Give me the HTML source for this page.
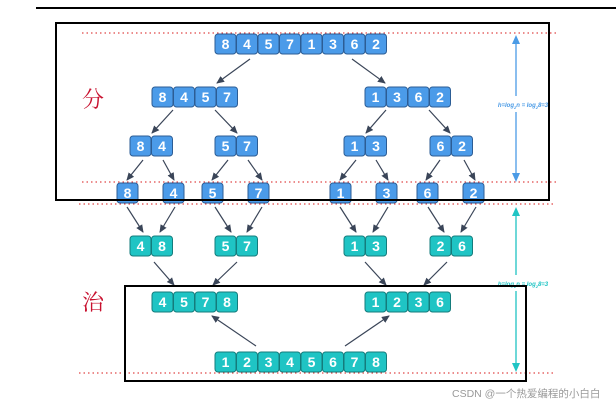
<!DOCTYPE html>
<html><head><meta charset="utf-8"><style>
html,body{margin:0;padding:0;background:#fff;}
svg{display:block}
.b rect{fill:#4b9be9;stroke:#2c5d95;stroke-width:1}
.t rect{fill:#1fc4c4;stroke:#147c7c;stroke-width:1}
text.n{font-family:"Liberation Sans",sans-serif;font-weight:bold;font-size:14px;fill:#fff;text-anchor:middle}
.ar line{stroke:#3a4558;stroke-width:1.2;marker-end:url(#ah)}
.dot{stroke:#e04848;stroke-width:1.2;stroke-dasharray:1.5 3}
</style></head><body>
<svg width="616" height="408" viewBox="0 0 616 408" xmlns="http://www.w3.org/2000/svg">
<defs>
<marker id="ah" markerWidth="8" markerHeight="8" refX="7" refY="4" orient="auto" markerUnits="userSpaceOnUse"><path d="M0,0.5 L8,4 L0,7.5 z" fill="#3a4558"/></marker>
<marker id="bh" markerWidth="8" markerHeight="10" refX="4" refY="9" orient="auto-start-reverse" markerUnits="userSpaceOnUse"><path d="M0,0 L4,10 L8,0 z" transform="rotate(0)" fill="#4a9be6"/></marker>
</defs>
<line x1="36" y1="8" x2="616" y2="8" stroke="#000" stroke-width="2"/>
<line class="dot" x1="82" y1="33" x2="558" y2="33"/>
<line class="dot" x1="82" y1="182" x2="558" y2="182"/>
<line class="dot" x1="79" y1="204" x2="554" y2="204"/>
<line class="dot" x1="79" y1="373" x2="554" y2="373"/>

<!-- blue vertical arrow -->
<line x1="516" y1="38" x2="516" y2="96" stroke="#4a9be6" stroke-width="1.3"/>
<line x1="516" y1="112" x2="516" y2="178" stroke="#4a9be6" stroke-width="1.3"/>
<path d="M512,44 L516,35 L520,44z M512,173 L516,182 L520,173z" fill="#4a9be6"/>
<text x="523" y="107" font-family="Liberation Sans,sans-serif" font-size="6" font-style="italic" font-weight="bold" fill="#4a9be6" text-anchor="middle">h=log<tspan font-size="4" dy="2">2</tspan><tspan dy="-2">n = log</tspan><tspan font-size="4" dy="2">2</tspan><tspan dy="-2">8=3</tspan></text>
<!-- teal vertical arrow -->
<line x1="516" y1="210" x2="516" y2="275" stroke="#1fc4c4" stroke-width="1.3"/>
<line x1="516" y1="291" x2="516" y2="368" stroke="#1fc4c4" stroke-width="1.3"/>
<path d="M512,216 L516,207 L520,216z M512,363 L516,372 L520,363z" fill="#1fc4c4"/>
<text x="523" y="286" font-family="Liberation Sans,sans-serif" font-size="6" font-style="italic" font-weight="bold" fill="#1fc4c4" text-anchor="middle">h=log<tspan font-size="4" dy="2">2</tspan><tspan dy="-2">n = log</tspan><tspan font-size="4" dy="2">2</tspan><tspan dy="-2">8=3</tspan></text>

<text x="82" y="107" font-family="Noto Serif CJK SC,serif" font-size="22" fill="#c8102e">分</text>
<text x="82" y="310" font-family="Noto Serif CJK SC,serif" font-size="22" fill="#c8102e">治</text>

<!-- arrows -->
<g class="ar">
<line x1="250" y1="59" x2="217" y2="83"/><line x1="352" y1="59" x2="385" y2="83"/>
<line x1="173" y1="110" x2="152" y2="133"/><line x1="215" y1="110" x2="237" y2="133"/>
<line x1="386" y1="110" x2="366" y2="133"/><line x1="429" y1="110" x2="450" y2="133"/>
<line x1="143" y1="160" x2="127" y2="180"/><line x1="163" y1="160" x2="174" y2="180"/>
<line x1="228" y1="160" x2="212" y2="180"/><line x1="248" y1="160" x2="262" y2="180"/>
<line x1="356" y1="160" x2="340" y2="180"/><line x1="376" y1="160" x2="388" y2="180"/>
<line x1="440" y1="160" x2="426" y2="180"/><line x1="464" y1="160" x2="475" y2="180"/>
<line x1="127" y1="207" x2="143" y2="232"/><line x1="175" y1="207" x2="160" y2="232"/>
<line x1="215" y1="207" x2="231" y2="232"/><line x1="262" y1="207" x2="247" y2="232"/>
<line x1="340" y1="207" x2="356" y2="232"/><line x1="388" y1="207" x2="373" y2="232"/>
<line x1="428" y1="207" x2="444" y2="232"/><line x1="476" y1="207" x2="461" y2="232"/>
<line x1="154" y1="262" x2="174" y2="285"/><line x1="237" y1="262" x2="213" y2="285"/>
<line x1="365" y1="262" x2="386" y2="285"/><line x1="447" y1="262" x2="424" y2="285"/>
<line x1="256" y1="346" x2="212" y2="316"/><line x1="345" y1="346" x2="389" y2="316"/>
</g>

<!-- blue cells -->
<g class="b">
<rect x="215" y="34" width="21" height="20" rx="3"/><rect x="236.5" y="34" width="21" height="20" rx="3"/><rect x="258" y="34" width="21" height="20" rx="3"/><rect x="279.5" y="34" width="21" height="20" rx="3"/><rect x="301" y="34" width="21" height="20" rx="3"/><rect x="322.5" y="34" width="21" height="20" rx="3"/><rect x="344" y="34" width="21" height="20" rx="3"/><rect x="365.5" y="34" width="21" height="20" rx="3"/>
<rect x="152" y="87" width="21" height="20" rx="3"/><rect x="173.5" y="87" width="21" height="20" rx="3"/><rect x="195" y="87" width="21" height="20" rx="3"/><rect x="216.5" y="87" width="21" height="20" rx="3"/>
<rect x="365" y="87" width="21" height="20" rx="3"/><rect x="386.5" y="87" width="21" height="20" rx="3"/><rect x="408" y="87" width="21" height="20" rx="3"/><rect x="429.5" y="87" width="21" height="20" rx="3"/>
<rect x="130" y="136" width="21" height="20" rx="3"/><rect x="151.5" y="136" width="21" height="20" rx="3"/>
<rect x="215" y="136" width="21" height="20" rx="3"/><rect x="236.5" y="136" width="21" height="20" rx="3"/>
<rect x="344" y="136" width="21" height="20" rx="3"/><rect x="365.5" y="136" width="21" height="20" rx="3"/>
<rect x="430" y="136" width="21" height="20" rx="3"/><rect x="451.5" y="136" width="21" height="20" rx="3"/>
<rect x="117" y="183" width="21" height="20" rx="3"/><rect x="163" y="183" width="21" height="20" rx="3"/><rect x="202" y="183" width="21" height="20" rx="3"/><rect x="248" y="183" width="21" height="20" rx="3"/><rect x="330" y="183" width="21" height="20" rx="3"/><rect x="376" y="183" width="21" height="20" rx="3"/><rect x="417" y="183" width="21" height="20" rx="3"/><rect x="463" y="183" width="21" height="20" rx="3"/>
</g>
<g class="t">
<rect x="130" y="236" width="21" height="20" rx="3"/><rect x="151.5" y="236" width="21" height="20" rx="3"/>
<rect x="215" y="236" width="21" height="20" rx="3"/><rect x="236.5" y="236" width="21" height="20" rx="3"/>
<rect x="344" y="236" width="21" height="20" rx="3"/><rect x="365.5" y="236" width="21" height="20" rx="3"/>
<rect x="430" y="236" width="21" height="20" rx="3"/><rect x="451.5" y="236" width="21" height="20" rx="3"/>
<rect x="152" y="292" width="21" height="20" rx="3"/><rect x="173.5" y="292" width="21" height="20" rx="3"/><rect x="195" y="292" width="21" height="20" rx="3"/><rect x="216.5" y="292" width="21" height="20" rx="3"/>
<rect x="365" y="292" width="21" height="20" rx="3"/><rect x="386.5" y="292" width="21" height="20" rx="3"/><rect x="408" y="292" width="21" height="20" rx="3"/><rect x="429.5" y="292" width="21" height="20" rx="3"/>
<rect x="215" y="352" width="21" height="20" rx="3"/><rect x="236.5" y="352" width="21" height="20" rx="3"/><rect x="258" y="352" width="21" height="20" rx="3"/><rect x="279.5" y="352" width="21" height="20" rx="3"/><rect x="301" y="352" width="21" height="20" rx="3"/><rect x="322.5" y="352" width="21" height="20" rx="3"/><rect x="344" y="352" width="21" height="20" rx="3"/><rect x="365.5" y="352" width="21" height="20" rx="3"/>
</g>
<g>
<text class="n" x="225.5" y="49">8</text><text class="n" x="247" y="49">4</text><text class="n" x="268.5" y="49">5</text><text class="n" x="290" y="49">7</text><text class="n" x="311.5" y="49">1</text><text class="n" x="333" y="49">3</text><text class="n" x="354.5" y="49">6</text><text class="n" x="376" y="49">2</text>
<text class="n" x="162.5" y="102">8</text><text class="n" x="184" y="102">4</text><text class="n" x="205.5" y="102">5</text><text class="n" x="227" y="102">7</text>
<text class="n" x="375.5" y="102">1</text><text class="n" x="397" y="102">3</text><text class="n" x="418.5" y="102">6</text><text class="n" x="440" y="102">2</text>
<text class="n" x="140.5" y="151">8</text><text class="n" x="162" y="151">4</text><text class="n" x="225.5" y="151">5</text><text class="n" x="247" y="151">7</text><text class="n" x="354.5" y="151">1</text><text class="n" x="376" y="151">3</text><text class="n" x="440.5" y="151">6</text><text class="n" x="462" y="151">2</text>
<text class="n" x="127.5" y="198">8</text><text class="n" x="173.5" y="198">4</text><text class="n" x="212.5" y="198">5</text><text class="n" x="258.5" y="198">7</text><text class="n" x="340.5" y="198">1</text><text class="n" x="386.5" y="198">3</text><text class="n" x="427.5" y="198">6</text><text class="n" x="473.5" y="198">2</text>
<text class="n" x="140.5" y="251">4</text><text class="n" x="162" y="251">8</text><text class="n" x="225.5" y="251">5</text><text class="n" x="247" y="251">7</text><text class="n" x="354.5" y="251">1</text><text class="n" x="376" y="251">3</text><text class="n" x="440.5" y="251">2</text><text class="n" x="462" y="251">6</text>
<text class="n" x="162.5" y="307">4</text><text class="n" x="184" y="307">5</text><text class="n" x="205.5" y="307">7</text><text class="n" x="227" y="307">8</text>
<text class="n" x="375.5" y="307">1</text><text class="n" x="397" y="307">2</text><text class="n" x="418.5" y="307">3</text><text class="n" x="440" y="307">6</text>
<text class="n" x="225.5" y="367">1</text><text class="n" x="247" y="367">2</text><text class="n" x="268.5" y="367">3</text><text class="n" x="290" y="367">4</text><text class="n" x="311.5" y="367">5</text><text class="n" x="333" y="367">6</text><text class="n" x="354.5" y="367">7</text><text class="n" x="376" y="367">8</text>
</g>

<rect x="56" y="23" width="493" height="177" fill="none" stroke="#000" stroke-width="2"/>
<rect x="125" y="286" width="401" height="95" fill="none" stroke="#000" stroke-width="2"/>

<text x="452" y="397" font-family="Liberation Sans,Noto Sans CJK SC,sans-serif" font-size="10.5" fill="#999">CSDN @一个热爱编程的小白白</text>
</svg>
</body></html>
